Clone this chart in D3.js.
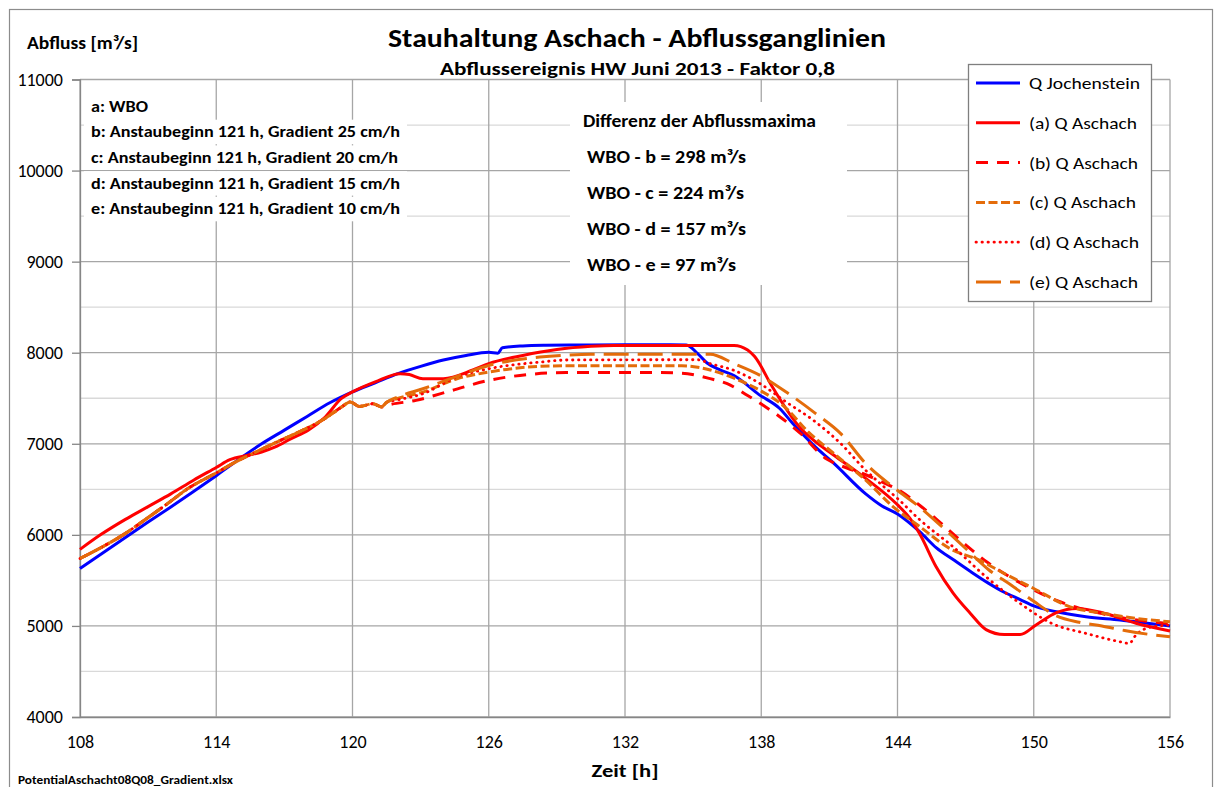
<!DOCTYPE html>
<html>
<head>
<meta charset="utf-8">
<script src="https://cdn.jsdelivr.net/npm/d3@7"></script>
<style>
  body { margin: 0; background: #fff; }
  svg { display: block; }
</style>
</head>
<body>
<svg id="chart" width="1215" height="787"></svg>
<script>
// ---- data ------------------------------------------------------------
const hourTicks = [108, 114, 120, 126, 132, 138, 144, 150, 156];
const flowTicks = [4000, 5000, 6000, 7000, 8000, 9000, 10000, 11000];
const flowMinorTicks = [4500, 5500, 6500, 7500, 8500, 9500, 10500];

const seriesNames = ["Q Jochenstein", "(a) Q Aschach", "(b) Q Aschach",
                     "(c) Q Aschach", "(d) Q Aschach", "(e) Q Aschach"];

// [hour, discharge m³/s]
const qJochenstein = [
  [108,5630],[109,5800],[110,5970],[111,6140],[112,6305],[113,6475],[114,6650],
  [115,6830],[116,7000],[117,7150],[118,7300],[119,7450],[120,7570],[121,7670],
  [122,7770],[123,7850],[124,7920],[125,7970],[126,8005],[126.4,7995],[126.6,8055],
  [127.5,8075],[128.5,8082],[130,8085],[132,8088],[134,8088],[134.7,8085],
  [135.2,7990],[135.6,7890],[136.2,7810],[136.8,7750],[137.9,7540],[138.8,7390],
  [139.4,7220],[140.3,6985],[141.2,6785],[142.6,6450],[143.3,6320],[144,6230],
  [145,6030],[145.7,5860],[146.5,5720],[147.2,5600],[148,5470],[148.7,5370],
  [149.4,5290],[150,5220],[151,5155],[152.3,5100],[153.8,5065],[155,5030],[156,5000]
];
const qAschachA = [
  [108,5840],[108.9,6000],[110,6170],[111,6310],[112,6450],[113,6600],[114,6740],
  [114.6,6825],[115.4,6874],[116,6910],[116.6,6965],[117.3,7057],[118.05,7148],
  [118.8,7294],[119.5,7496],[120,7570],[121,7680],[122.1,7770],[122.5,7760],
  [123.1,7715],[124,7715],[125.3,7810],[126,7880],[127.5,7970],[129,8035],
  [130.5,8070],[131.5,8080],[136.8,8080],[137.4,8030],[137.7,7960],[138.5,7620],
  [139.7,7180],[140.3,7040],[141.2,6875],[142.6,6620],[144,6330],[144.55,6180],
  [145,6000],[145.7,5650],[146.45,5360],[147.2,5140],[147.9,4960],[148.7,4905],
  [149.4,4905],[150.1,5010],[151,5145],[151.9,5192],[153.1,5140],[154.5,5030],[156,4945]
];
const qAschachB = [
  [108,5740],[109,5870],[109.9,6000],[111,6190],[112,6370],[112.7,6500],[114,6680],
  [115,6820],[116,6940],[116.5,7000],[117.3,7090],[118.8,7280],[119.5,7400],
  [119.9,7460],[120.3,7410],[120.9,7440],[121.27,7405],[121.5,7422],[122.8,7477],
  [124.4,7587],[126,7696],[127.8,7762],[129.4,7782],[133.5,7782],[134.5,7775],
  [135.75,7715],[136.5,7660],[137.4,7530],[138.1,7420],[138.8,7300],[139.7,7120],
  [140.9,6830],[141.5,6760],[142.6,6660],[143.5,6560],[144,6500],[145,6320],
  [146,6110],[147,5890],[148,5690],[149,5530],[150,5395],[151,5280],[152,5195],
  [153,5135],[154,5085],[155,5050],[156,5025]
];
const qAschachC = [
  [108,5740],[109,5870],[109.9,6000],[111,6190],[112,6370],[112.7,6500],[114,6680],
  [115,6820],[116,6940],[116.5,7000],[117.3,7090],[118.8,7280],[119.5,7400],
  [119.9,7460],[120.3,7410],[120.9,7440],[121.27,7405],[121.5,7455],[121.95,7495],
  [123.1,7568],[124.6,7714],[126,7787],[128.25,7850],[129.5,7856],[134.5,7856],
  [135.2,7840],[135.75,7810],[136.8,7720],[137.95,7586],[139.1,7390],[140,7148],
  [141.2,6892],[142.6,6600],[143.8,6310],[145,6087],[146.3,5850],[147.6,5722],
  [148.7,5576],[150,5411],[151.6,5210],[153.1,5137],[154.5,5083],[156,5046]
];
const qAschachD = [
  [108,5740],[109,5870],[109.9,6000],[111,6190],[112,6370],[112.7,6500],[114,6680],
  [115,6820],[116,6940],[116.5,7000],[117.3,7090],[118.8,7280],[119.5,7400],
  [119.9,7460],[120.3,7410],[120.9,7440],[121.27,7405],[121.5,7455],[121.95,7480],
  [123.1,7550],[124.6,7733],[126,7824],[128.25,7897],[129.5,7920],[135.2,7923],
  [135.75,7880],[136.8,7806],[137.95,7660],[139.1,7458],[140.3,7257],[141.5,7002],
  [142.6,6709],[143.3,6550],[144,6400],[145,6161],[146.45,5868],[147.9,5539],
  [149.4,5247],[150.8,5027],[152.3,4918],[153.8,4826],[154.2,4808],[154.5,4900],
  [155.2,4990],[156,5010]
];
const qAschachE = [
  [108,5740],[109,5870],[109.9,6000],[111,6190],[112,6370],[112.7,6500],[114,6680],
  [115,6820],[116,6940],[116.5,7000],[117.3,7090],[118.8,7280],[119.5,7400],
  [119.9,7460],[120.3,7410],[120.9,7440],[121.27,7405],[121.5,7455],[121.95,7510],
  [123.1,7604],[124.6,7740],[126,7860],[128.25,7952],[129.5,7975],[130.5,7983],
  [135.75,7983],[136.8,7880],[137.95,7751],[139.1,7568],[140.4,7331],[141.5,7111],
  [142.6,6783],[143.8,6526],[145,6300],[146,6080],[147,5850],[148,5620],[149,5450],
  [150,5270],[151,5110],[152,5040],[153,5000],[154,4950],[155,4910],[156,4880]
];

const leftNotes = [
  "a: WBO",
  "b: Anstaubeginn 121 h, Gradient 25 cm/h",
  "c: Anstaubeginn 121 h, Gradient 20 cm/h",
  "d: Anstaubeginn 121 h, Gradient 15 cm/h",
  "e: Anstaubeginn 121 h, Gradient 10 cm/h"
];
const diffTitle = "Differenz der Abflussmaxima";
const diffNotes = ["WBO - b = 298 m³/s", "WBO - c = 224 m³/s",
                   "WBO - d = 157 m³/s", "WBO - e = 97 m³/s"];

// ---- layout / style ----------------------------------------------------
const FONT = "Carlito, Calibri, Lato, 'Open Sans', sans-serif";
const BLUE = "#0000FF", RED = "#FF0000", ORANGE = "#E46C0A";
const styles = [
  { color: BLUE,   width: 3,   dash: null,       cap: "butt" },
  { color: RED,    width: 3,   dash: null,       cap: "butt" },
  { color: RED,    width: 3,   dash: "12 9",     cap: "butt" },
  { color: ORANGE, width: 3,   dash: "9 3.5",    cap: "butt" },
  { color: RED,    width: 2.8, dash: "0.4 5.6",  cap: "round" },
  { color: ORANGE, width: 3,   dash: "25 9",     cap: "butt" }
];
const seriesData = [qJochenstein, qAschachA, qAschachB, qAschachC, qAschachD, qAschachE];

const plot = { left: 80, right: 1170, top: 79.5, bottom: 717 };
const x = d3.scaleLinear().domain([108, 156]).range([plot.left, plot.right]);
const y = d3.scaleLinear().domain([4000, 11000]).range([plot.bottom, plot.top]);

const svg = d3.select("#chart");

function addText(parent, str, px, py, o = {}) {
  const t = parent.append("text")
    .attr("x", px).attr("y", py)
    .attr("font-family", FONT)
    .attr("font-size", o.size || 16)
    .attr("font-weight", o.bold ? "bold" : "normal")
    .attr("text-anchor", o.anchor || "start")
    .attr("fill", o.fill || "#000")
    .text(str);
  if (o.width) t.attr("textLength", o.width).attr("lengthAdjust", "spacingAndGlyphs");
  return t;
}

// chart frame
svg.append("rect")
  .attr("x", 9.5).attr("y", 9.5).attr("width", 1203).attr("height", 800)
  .attr("fill", "#fff").attr("stroke", "#8c8c8c").attr("stroke-width", 1.2);

// grid
const grid = svg.append("g");
grid.selectAll("line.minor").data(flowMinorTicks).join("line")
  .attr("x1", plot.left).attr("x2", plot.right)
  .attr("y1", d => y(d)).attr("y2", d => y(d))
  .attr("stroke", "#D9D9D9").attr("stroke-width", 1.3);
grid.selectAll("line.major").data(flowTicks).join("line")
  .attr("x1", plot.left).attr("x2", plot.right)
  .attr("y1", d => y(d)).attr("y2", d => y(d))
  .attr("stroke", "#A6A6A6").attr("stroke-width", 1.3);
grid.selectAll("line.vert").data(hourTicks).join("line")
  .attr("x1", d => x(d)).attr("x2", d => x(d))
  .attr("y1", plot.top).attr("y2", plot.bottom)
  .attr("stroke", "#A6A6A6").attr("stroke-width", 1.3);

// y axis
const yAxis = svg.append("g")
  .attr("transform", `translate(${plot.left},0)`)
  .call(d3.axisLeft(y).tickValues(flowTicks).tickSize(8).tickPadding(9).tickFormat(d3.format("d")));
yAxis.select(".domain").attr("stroke", "#868686").attr("stroke-width", 1.3);
yAxis.selectAll(".tick line").attr("stroke", "#868686").attr("stroke-width", 1.3);
yAxis.selectAll(".tick text")
  .attr("font-family", FONT).attr("font-size", 18).attr("fill", "#000");

// x axis
const xAxis = svg.append("g")
  .attr("transform", `translate(0,${plot.bottom})`)
  .call(d3.axisBottom(x).tickValues(hourTicks).tickSize(0).tickFormat(d3.format("d")));
xAxis.select(".domain").attr("stroke", "#868686").attr("stroke-width", 1.3);
xAxis.selectAll(".tick text")
  .attr("y", 25).attr("dy", "0.35em")
  .attr("font-family", FONT).attr("font-size", 18).attr("fill", "#000");

// series
const line = d3.line().x(d => x(d[0])).y(d => y(d[1])).curve(d3.curveMonotoneX);
const lines = svg.append("g");
seriesData.forEach((data, i) => {
  const s = styles[i];
  lines.append("path")
    .datum(data)
    .attr("d", line)
    .attr("fill", "none")
    .attr("stroke", s.color)
    .attr("stroke-width", s.width)
    .attr("stroke-linecap", s.cap)
    .attr("stroke-linejoin", "round")
    .attr("stroke-dasharray", s.dash);
});

// titles
addText(svg, "Stauhaltung Aschach - Abflussganglinien", 637, 47, { size: 26, bold: true, anchor: "middle", width: 498 });
addText(svg, "Abflussereignis HW Juni 2013 - Faktor 0,8", 637.5, 75, { size: 19, bold: true, anchor: "middle", width: 395 });
addText(svg, "Abfluss [m³/s]", 27, 49, { size: 17, bold: true, width: 111 });
addText(svg, "Zeit [h]", 625, 777, { size: 18, bold: true, anchor: "middle", width: 67 });
addText(svg, "PotentialAschacht08Q08_Gradient.xlsx", 18, 784, { size: 12, bold: true, width: 215 });

// scenario notes (each line on its own white box)
const leftWidths = [57, 309, 307, 309, 309];
const notes = svg.append("g");
leftNotes.forEach((str, i) => {
  const cy = 106 + i * 25.7;
  notes.append("rect")
    .attr("x", 84).attr("y", cy - 12).attr("width", leftWidths[i] + 14).attr("height", 24.5)
    .attr("fill", "#fff");
  addText(notes, str, 91, cy + 5.5, { size: 16, bold: true, width: leftWidths[i] });
});

// peak differences
const diff = svg.append("g");
diff.append("rect").attr("x", 570).attr("y", 102).attr("width", 277).attr("height", 183).attr("fill", "#fff");
addText(diff, diffTitle, 583, 127, { size: 17, bold: true, width: 233 });
const diffWidths = [159, 157, 159, 149];
diffNotes.forEach((str, i) => {
  addText(diff, str, 587, 163 + i * 36, { size: 17, bold: true, width: diffWidths[i] });
});

// legend
const legend = svg.append("g");
legend.append("rect")
  .attr("x", 968.5).attr("y", 64.5).attr("width", 183).attr("height", 237)
  .attr("fill", "#fff").attr("stroke", "#7f7f7f").attr("stroke-width", 1.3);
const legendWidths = [111, 108, 109, 107, 110, 109];
seriesNames.forEach((name, i) => {
  const cy = 83 + i * 39.8;
  const s = styles[i];
  legend.append("line")
    .attr("x1", 976).attr("x2", 1020).attr("y1", cy).attr("y2", cy)
    .attr("stroke", s.color).attr("stroke-width", s.width)
    .attr("stroke-linecap", s.cap).attr("stroke-dasharray", s.dash);
  addText(legend, name, 1029, cy + 6, { size: 17, width: legendWidths[i] });
});
</script>
</body>
</html>
